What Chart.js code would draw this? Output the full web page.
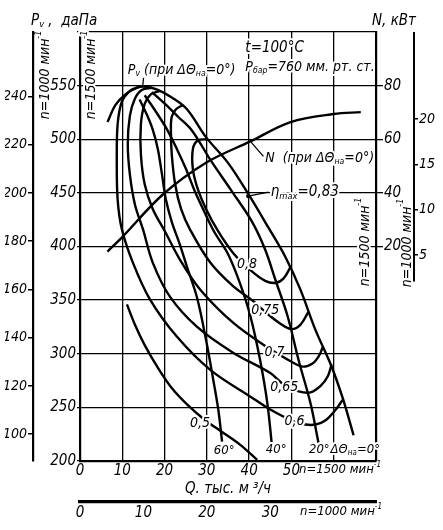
<!DOCTYPE html>
<html>
<head>
<meta charset="utf-8">
<script src="https://cdn.jsdelivr.net/npm/chart.js@4.4.0/dist/chart.umd.min.js"></script>
<style>
html, body { margin: 0; padding: 0; background: #fff; }
#wrap { width: 443px; height: 530px; }
</style>
</head>
<body>
<div id="wrap"><canvas id="fan" width="443" height="530"></canvas></div>
<script>
// Q, тыс. м3/ч and Pv, даПа at n=1500 мин-1
var q0 = [6.5, 8.4, 10.8, 13.4, 15.6, 18.4, 21.7, 25.3, 29.8, 35.0, 39.8, 44.5, 48.6, 52.1, 55.7, 59.3, 62.1, 64.7];
var p0 = [516, 532, 542, 548, 549, 546, 539, 528, 502, 478, 449, 418, 390, 360, 322, 290, 259, 224];
var q20 = [17.0, 20.1, 23.2, 26.5, 30.8, 36.0, 40.7, 43.8, 46.2, 49.1, 51.7, 54.5, 56.4];
var p20 = [544, 533, 521, 508, 481, 451, 423, 397, 369, 335, 294, 254, 217];
var q40 = [15.3, 17.9, 20.6, 22.9, 25.1, 27.0, 29.1, 31.7, 35.0, 37.9, 40.3, 42.6, 44.3, 45.5];
var p40 = [541, 526, 509, 491, 472, 453, 435, 414, 393, 365, 335, 294, 254, 210];
var q60 = [14.1, 15.8, 17.2, 18.4, 19.4, 20.3, 21.7, 23.6, 25.3, 27.7, 29.8, 31.5, 32.7, 33.6];
var p60 = [537, 523, 509, 491, 467, 444, 423, 402, 381, 352, 313, 276, 248, 218];

// efficiency lines
var qE80 = [30.0, 27.9, 26.7, 26.7, 27.9, 29.8, 32.7, 36.2, 40.3, 43.8, 46.2, 48.1, 49.8];
var pE80 = [500, 499, 491, 472, 453, 435, 414, 394, 378, 368, 366, 370, 381];
var qE75 = [24.4, 22.7, 21.7, 21.5, 21.7, 22.5, 23.9, 26.0, 30.8, 36.2, 41.0, 43.8, 47.4, 50.0, 52.1, 54.0];
var pE75 = [532, 528, 521, 508, 486, 458, 435, 416, 385, 363, 349, 339, 328, 323, 327, 339];
var qE70 = [18.9, 16.8, 15.3, 14.4, 14.4, 15.3, 17.2, 20.1, 23.6, 28.4, 36.2, 44.3, 49.8, 52.6, 55.0, 56.5, 57.4];
var pE70 = [545, 542, 533, 514, 486, 458, 435, 414, 388, 360, 329, 306, 293, 288, 291, 298, 306];
var qE65 = [17.0, 14.6, 13.0, 11.8, 11.3, 11.8, 13.0, 14.9, 17.2, 21.3, 27.7, 36.2, 45.0, 48.3, 51.7, 54.5, 56.9, 58.6, 59.5];
var pE65 = [548, 546, 538, 522, 495, 467, 439, 416, 385, 353, 325, 301, 282, 271, 265, 264, 270, 279, 290];
var qE60 = [14.1, 11.8, 9.9, 8.9, 8.7, 8.9, 9.9, 12.5, 16.5, 22.9, 30.8, 40.3, 45.0, 50.5, 53.3, 55.7, 58.1, 60.5, 62.1];
var pE60 = [549, 545, 535, 514, 481, 444, 416, 385, 351, 316, 285, 260, 248, 237, 234, 234, 238, 248, 257];
var qE50 = [11.1, 13.0, 15.3, 18.4, 21.7, 25.5, 29.6, 33.6, 37.9, 41.9];
var pE50 = [346, 327, 308, 287, 268, 252, 238, 227, 215, 201];
var qEtaMax = [39.8];
var pEtaMax = [447];

// power N, кВт at ΔΘна=0°
var qN = [6.5, 10.1, 19.6, 30.0, 40.3, 49.8, 60.0, 66.4];
var nN = [18.1, 23.7, 39.4, 51.4, 59.2, 66.4, 69.4, 70.1];

// ticks of the extra scales
var tP1000 = [100, 120, 140, 160, 180, 200, 220, 240];
var tN1500 = [20, 40, 60, 80];
var tN1000 = [5, 10, 15, 20];
var tQ1000 = [0, 10, 20, 30];

var FAM = "'Liberation Sans Narrow', 'DejaVu Sans Condensed', 'Liberation Sans', sans-serif";
function fnt(s) { return 'italic ' + s + 'px ' + FAM; }

function pts(qs, ps) {
    return qs.map(function (q, i) { return { x: q, y: ps[i] }; });
}
function curve(qs, ps, axis) {
    return {
        data: pts(qs, ps),
        yAxisID: axis || 'y',
        borderColor: '#000',
        borderWidth: 2.4,
        pointRadius: 0,
        tension: 0.35,
        fill: false
    };
}
function fixTicks(list) {
    return function (s) { s.ticks = list.map(function (v) { return { value: v }; }); };
}

// text with sub/superscripts: parts = [[text, ''|'sub'|'sup'], ...]
function rich(ctx, x, y, parts, size, align, halo) {
    var w = 0;
    parts.forEach(function (p) {
        ctx.font = fnt(p[1] ? size * 0.62 : size);
        w += ctx.measureText(p[0]).width;
    });
    var cx = align === 'center' ? x - w / 2 : (align === 'right' ? x - w : x);
    parts.forEach(function (p) {
        var s = p[1] ? size * 0.62 : size;
        var dy = p[1] === 'sub' ? size * 0.25 : (p[1] === 'sup' ? -size * 0.42 : 0);
        ctx.font = fnt(s);
        if (halo) {
            ctx.strokeStyle = '#fff';
            ctx.lineWidth = 4;
            ctx.lineJoin = 'round';
            ctx.strokeText(p[0], cx, y + dy);
        }
        ctx.fillStyle = '#000';
        ctx.fillText(p[0], cx, y + dy);
        cx += ctx.measureText(p[0]).width;
    });
}

var n1500 = [['n=1500 мин', ''], ['-1', 'sup']];
var n1000 = [['n=1000 мин', ''], ['-1', 'sup']];

var notes = {
    id: 'notes',
    afterDraw: function (chart) {
        var ctx = chart.ctx;
        var sx = chart.scales.x, sy = chart.scales.y, sn = chart.scales.yN, sn2 = chart.scales.yN2;
        var X = function (v) { return sx.getPixelForValue(v); };
        var Y = function (v) { return sy.getPixelForValue(v); };
        ctx.save();

        // short border of N scale for n=1000
        ctx.strokeStyle = '#000';
        ctx.lineWidth = 2;
        ctx.beginPath();
        ctx.moveTo(sn2.left, chart.chartArea.top);
        ctx.lineTo(sn2.left, sn2.getPixelForValue(2.05));
        ctx.stroke();

        // leaders
        ctx.lineWidth = 1.3;
        ctx.beginPath();
        ctx.moveTo(X(14.8), Y(549)); ctx.lineTo(X(14.8) + 1, Y(549) - 9);
        ctx.moveTo(X(40.3), sn.getPixelForValue(59.2)); ctx.lineTo(X(40.3) + 13, sn.getPixelForValue(59.2) + 15);
        ctx.moveTo(X(qEtaMax[0]), Y(pEtaMax[0])); ctx.lineTo(X(qEtaMax[0]) + 20, Y(pEtaMax[0]) - 4);
        ctx.stroke();
        ctx.beginPath();
        ctx.arc(X(qEtaMax[0]), Y(pEtaMax[0]), 2.2, 0, Math.PI * 2);
        ctx.fillStyle = '#000';
        ctx.fill();

        ctx.textBaseline = 'middle';
        // efficiency and angle labels
        var lab = [
            ['0,8', 39.5, 383, 14], ['0,75', 43.8, 340, 14], ['0,7', 46.0, 301, 14], ['0,65', 48.3, 269, 14],
            ['0,6', 50.7, 237, 14], ['0,5', 28.4, 235, 14], ['60°', 34.1, 210, 13], ['40°', 46.4, 211, 13], ['20°', 56.6, 211, 13]
        ];
        lab.forEach(function (l) { rich(ctx, X(l[1]), Y(l[2]), [[l[0], '']], l[3], 'center', true); });
        rich(ctx, X(65.1), Y(211), [['ΔΘ', ''], ['на', 'sub'], ['=0°', '']], 13, 'center', true);
        rich(ctx, X(45.1), Y(450.5), [['η', ''], ['max', 'sub'], ['=0,83', '']], 15, 'left', true);
        rich(ctx, X(43.8), Y(482), [['N  (при ΔΘ', ''], ['на', 'sub'], ['=0°)', '']], 14, 'left', true);
        rich(ctx, X(11.3), Y(564.5), [['P', ''], ['v', 'sub'], [' (при ΔΘ', ''], ['на', 'sub'], ['=0°)', '']], 14, 'left', true);
        rich(ctx, X(39.1), Y(585), [['t=100°C', '']], 15, 'left', true);
        rich(ctx, X(39.1), Y(567.3), [['P', ''], ['бар', 'sub'], ['=760 мм. рт. ст.', '']], 14, 'left', true);

        // texts around the frame
        rich(ctx, 31, 21, [['P', ''], ['v', 'sub'], [' ,  даПа', '']], 15, 'left', false);
        rich(ctx, 372, 21, [['N, кВт', '']], 15, 'left', false);
        rich(ctx, chart.chartArea.right + 5, 470, n1500, 13, 'right', false);
        rich(ctx, chart.chartArea.right + 6, 512, n1000, 13, 'right', false);

        // rotated speed notes
        var rot = [[45, 75, n1000, false], [91, 75, n1500, true], [365, 242, n1500, true], [407, 243, n1000, false]];
        rot.forEach(function (r) {
            ctx.save();
            ctx.translate(r[0], r[1]);
            ctx.rotate(-Math.PI / 2);
            rich(ctx, 0, 0, r[2], 14, 'center', r[3]);
            ctx.restore();
        });
        ctx.restore();
    }
};

var tickFont = { family: FAM, size: 15, style: 'italic' };
var sideFont = { family: FAM, size: 14, style: 'italic' };

new Chart(document.getElementById('fan'), {
    type: 'line',
    data: {
        datasets: [
            curve(q0, p0), curve(q20, p20), curve(q40, p40), curve(q60, p60),
            curve(qE80, pE80), curve(qE75, pE75), curve(qE70, pE70), curve(qE65, pE65),
            curve(qE60, pE60), curve(qE50, pE50),
            curve(qN, nN, 'yN')
        ]
    },
    options: {
        responsive: false,
        animation: false,
        layout: { padding: { top: 32, left: 5, right: 0, bottom: 0 } },
        plugins: { legend: { display: false }, tooltip: { enabled: false } },
        scales: {
            x: {
                type: 'linear', position: 'bottom', weight: 0, min: 0, max: 70,
                ticks: { stepSize: 10, color: '#000', font: tickFont, padding: 1, maxRotation: 0,
                    callback: function (v) { return v <= 50 ? v : ''; } },
                grid: { color: '#000', lineWidth: 1.3, drawTicks: false },
                border: { color: '#000', width: 2.2 },
                title: { display: true, text: 'Q. тыс. м ³/ч', color: '#000', font: tickFont, padding: { top: 0, bottom: 4 } },
                afterFit: function (s) { s.height = 41; }
            },
            x2: {
                type: 'linear', position: 'bottom', weight: 1, min: 0, max: 70 / 1.5,
                afterBuildTicks: fixTicks(tQ1000),
                ticks: { color: '#000', font: tickFont, padding: 2, maxRotation: 0 },
                grid: { drawOnChartArea: false, drawTicks: false },
                border: { color: '#000', width: 3.2 },
                afterFit: function (s) { s.height = 28; }
            },
            y: {
                type: 'linear', position: 'left', weight: 0, min: 200, max: 600,
                ticks: { stepSize: 50, color: '#000', font: tickFont, padding: 1,
                    callback: function (v) { return v < 600 ? v : ''; } },
                grid: { color: '#000', lineWidth: 1.3, tickLength: 3 },
                border: { color: '#000', width: 2.2 },
                afterFit: function (s) { s.width = 47; }
            },
            y2: {
                type: 'linear', position: 'left', weight: 1, min: 200 / 2.25, max: 600 / 2.25,
                afterBuildTicks: fixTicks(tP1000),
                ticks: { color: '#000', font: sideFont, padding: 1 },
                grid: { drawOnChartArea: false, color: '#000', lineWidth: 1.5, tickLength: 5 },
                border: { color: '#000', width: 2.2 },
                afterFit: function (s) { s.width = 28; }
            },
            yN: {
                type: 'linear', position: 'right', weight: 0, min: -60, max: 100,
                afterBuildTicks: fixTicks(tN1500),
                ticks: { color: '#000', font: tickFont, padding: 1 },
                grid: { drawOnChartArea: false, color: '#000', lineWidth: 1.3, tickLength: 7 },
                border: { color: '#000', width: 2.2 },
                afterFit: function (s) { s.width = 38; }
            },
            yN2: {
                type: 'linear', position: 'right', weight: 1, min: -60 / 3.375, max: 100 / 3.375,
                afterBuildTicks: fixTicks(tN1000),
                ticks: { color: '#000', font: sideFont, padding: 1 },
                grid: { drawOnChartArea: false, color: '#000', lineWidth: 1.5, tickLength: 4 },
                border: { display: false },
                afterFit: function (s) { s.width = 29; }
            }
        }
    },
    plugins: [notes]
});
</script>
</body>
</html>
